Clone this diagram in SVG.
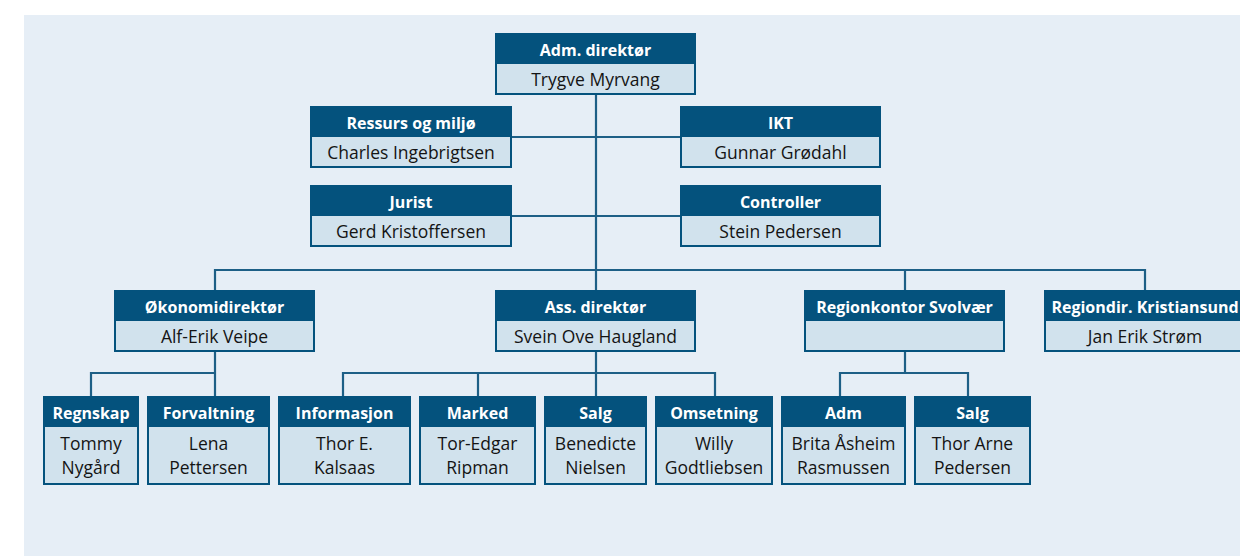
<svg xmlns="http://www.w3.org/2000/svg" width="1240" height="556" viewBox="0 0 1240 556">
<style>
.bg{fill:#e6eef6}
.box{fill:#d1e2ed;stroke:#04527d;stroke-width:2}
.hd{fill:#04527d}
.ht{font-family:"Open Sans","Noto Sans",sans-serif;font-size:16px;font-weight:bold;fill:#ffffff;text-anchor:middle;dominant-baseline:central}
.bt{font-family:"Open Sans","Noto Sans",sans-serif;font-size:17.5px;fill:#141414;text-anchor:middle;dominant-baseline:central}
.cn{fill:none;stroke:#1d5f86;stroke-width:2.2}
</style>
<rect class="bg" x="24" y="15" width="1216" height="541"/>
<g id="connectors">
<path class="cn" d="M596 94 V291"/>
<path class="cn" d="M511 137 H681"/>
<path class="cn" d="M511 216 H681"/>
<path class="cn" d="M215 291 V270 H1145 V291"/>
<path class="cn" d="M905 270 V291"/>
<path class="cn" d="M215 351 V397"/>
<path class="cn" d="M91 397 V373 H215"/>
<path class="cn" d="M596 351 V397"/>
<path class="cn" d="M343 397 V373 H715 V397"/>
<path class="cn" d="M478 373 V397"/>
<path class="cn" d="M905 351 V373"/>
<path class="cn" d="M840 397 V373 H968 V397"/>
</g>
<g id="adm-direktor">
<rect class="box" x="496" y="34" width="199" height="60"/><rect class="hd" x="496" y="34" width="199" height="30"/>
<text class="ht" x="595.5" y="49.5">Adm. direktør</text><text class="bt" x="595.5" y="79">Trygve Myrvang</text>
</g>
<g id="ressurs">
<rect class="box" x="311" y="107" width="200" height="60"/><rect class="hd" x="311" y="107" width="200" height="30"/>
<text class="ht" x="411" y="122.5">Ressurs og miljø</text><text class="bt" x="411" y="152">Charles Ingebrigtsen</text>
</g>
<g id="ikt">
<rect class="box" x="681" y="107" width="199" height="60"/><rect class="hd" x="681" y="107" width="199" height="30"/>
<text class="ht" x="780.5" y="122.5">IKT</text><text class="bt" x="780.5" y="152">Gunnar Grødahl</text>
</g>
<g id="jurist">
<rect class="box" x="311" y="186" width="200" height="60"/><rect class="hd" x="311" y="186" width="200" height="30"/>
<text class="ht" x="411" y="201.5">Jurist</text><text class="bt" x="411" y="231">Gerd Kristoffersen</text>
</g>
<g id="controller">
<rect class="box" x="681" y="186" width="199" height="60"/><rect class="hd" x="681" y="186" width="199" height="30"/>
<text class="ht" x="780.5" y="201.5">Controller</text><text class="bt" x="780.5" y="231">Stein Pedersen</text>
</g>
<g id="okonomidirektor">
<rect class="box" x="115" y="291" width="199" height="60"/><rect class="hd" x="115" y="291" width="199" height="30"/>
<text class="ht" x="214.5" y="306.5">Økonomidirektør</text><text class="bt" x="214.5" y="336">Alf-Erik Veipe</text>
</g>
<g id="ass-direktor">
<rect class="box" x="496" y="291" width="199" height="60"/><rect class="hd" x="496" y="291" width="199" height="30"/>
<text class="ht" x="595.5" y="306.5">Ass. direktør</text><text class="bt" x="595.5" y="336">Svein Ove Haugland</text>
</g>
<g id="regionkontor-svolvaer">
<rect class="box" x="805" y="291" width="199" height="60"/><rect class="hd" x="805" y="291" width="199" height="30"/>
<text class="ht" x="904.5" y="306.5">Regionkontor Svolvær</text>
</g>
<g id="regiondir-kristiansund">
<rect class="box" x="1045" y="291" width="200" height="60"/><rect class="hd" x="1045" y="291" width="200" height="30"/>
<text class="ht" x="1145" y="306.5">Regiondir. Kristiansund</text><text class="bt" x="1145" y="336">Jan Erik Strøm</text>
</g>
<g id="regnskap">
<rect class="box" x="44" y="397" width="94" height="87"/><rect class="hd" x="44" y="397" width="94" height="30"/>
<text class="ht" x="91" y="412.5">Regnskap</text><text class="bt" x="91" y="443">Tommy</text><text class="bt" x="91" y="467">Nygård</text>
</g>
<g id="forvaltning">
<rect class="box" x="148" y="397" width="121" height="87"/><rect class="hd" x="148" y="397" width="121" height="30"/>
<text class="ht" x="208.5" y="412.5">Forvaltning</text><text class="bt" x="208.5" y="443">Lena</text><text class="bt" x="208.5" y="467">Pettersen</text>
</g>
<g id="informasjon">
<rect class="box" x="279" y="397" width="131" height="87"/><rect class="hd" x="279" y="397" width="131" height="30"/>
<text class="ht" x="344.5" y="412.5">Informasjon</text><text class="bt" x="344.5" y="443">Thor E.</text><text class="bt" x="344.5" y="467">Kalsaas</text>
</g>
<g id="marked">
<rect class="box" x="420" y="397" width="115" height="87"/><rect class="hd" x="420" y="397" width="115" height="30"/>
<text class="ht" x="477.5" y="412.5">Marked</text><text class="bt" x="477.5" y="443">Tor-Edgar</text><text class="bt" x="477.5" y="467">Ripman</text>
</g>
<g id="salg">
<rect class="box" x="545" y="397" width="101" height="87"/><rect class="hd" x="545" y="397" width="101" height="30"/>
<text class="ht" x="595.5" y="412.5">Salg</text><text class="bt" x="595.5" y="443">Benedicte</text><text class="bt" x="595.5" y="467">Nielsen</text>
</g>
<g id="omsetning">
<rect class="box" x="656" y="397" width="116" height="87"/><rect class="hd" x="656" y="397" width="116" height="30"/>
<text class="ht" x="714" y="412.5">Omsetning</text><text class="bt" x="714" y="443">Willy</text><text class="bt" x="714" y="467">Godtliebsen</text>
</g>
<g id="adm">
<rect class="box" x="782" y="397" width="123" height="87"/><rect class="hd" x="782" y="397" width="123" height="30"/>
<text class="ht" x="843.5" y="412.5">Adm</text><text class="bt" x="843.5" y="443">Brita Åsheim</text><text class="bt" x="843.5" y="467">Rasmussen</text>
</g>
<g id="salg-svolvaer">
<rect class="box" x="915" y="397" width="115" height="87"/><rect class="hd" x="915" y="397" width="115" height="30"/>
<text class="ht" x="972.5" y="412.5">Salg</text><text class="bt" x="972.5" y="443">Thor Arne</text><text class="bt" x="972.5" y="467">Pedersen</text>
</g>
</svg>
